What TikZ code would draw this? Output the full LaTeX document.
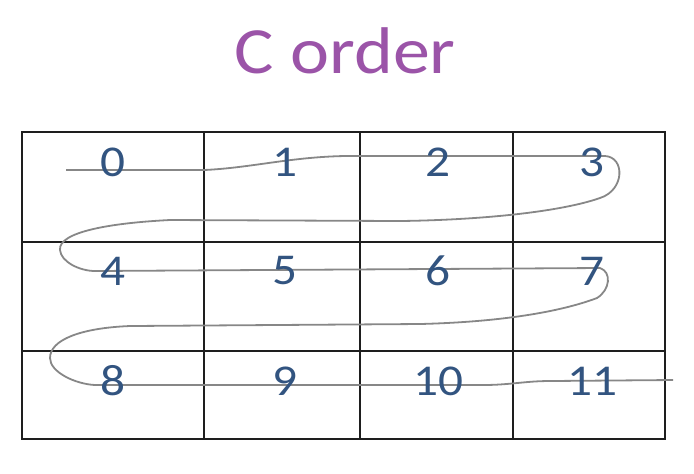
\documentclass[tikz,border=0pt]{standalone}
\usepackage{fontspec}
\usepackage{tikz}
\usetikzlibrary{positioning, calc}
\newfontfamily\calibrifont{Carlito}[FakeStretch=1.12]
\definecolor{titlepurple}{RGB}{155, 84, 168}
\definecolor{cellblue}{RGB}{50, 84, 128}
\definecolor{gridblack}{RGB}{30, 30, 30}
\definecolor{curvegray}{RGB}{135, 135, 135}
\tikzset{
    titlenode/.style={
        font=\calibrifont\fontsize{33}{36}\selectfont, text=titlepurple, inner sep=0pt, anchor=base
    },
    cellnum/.style={
        font=\calibrifont\fontsize{22}{24}\selectfont, text=cellblue, inner sep=0pt, anchor=center
    },
    gridline/.style={
        draw=gridblack, line width=1pt
    },
    orderpath/.style={
        draw=curvegray, line width=0.9pt, line join=round
    }
}

\begin{document}
\begin{tikzpicture}[x=0.5pt, y=-0.5pt]
        \useasboundingbox (0,0) rectangle (694,473);

        % --- 1. TITLE ---
        \node[titlenode] (title) at (345,73) {C order};

        % --- 2. GRID ---
        \coordinate (nw) at (22,132);
        \coordinate (se) at (665,439);
        \draw[gridline] (nw) rectangle (se);
        \foreach \gx in {204, 360, 513}
            \draw[gridline] (\gx,132) -- (\gx,439);
        \foreach \gy in {242, 351}
            \draw[gridline] (22,\gy) -- (665,\gy);

        % --- 3. ROW-MAJOR PATH ---
        \coordinate (start) at (66,170);
        \coordinate (finish) at (673,380);
        \draw[orderpath] (start) -- (204,170)
            .. controls (250,168) and (290,157) .. (345,156) -- (605,156)
            .. controls (625,157) and (625,190) .. (600,198)
            .. controls (560,212) and (480,220) .. (400,221) -- (170,220)
            .. controls (110,223) and (58,232) .. (60,250)
            .. controls (61,262) and (80,271) .. (95,271) -- (600,268)
            .. controls (612,272) and (610,290) .. (597,298)
            .. controls (560,312) and (500,322) .. (420,324) -- (130,326)
            .. controls (80,328) and (50,340) .. (50,358)
            .. controls (50,372) and (75,384) .. (95,385) -- (483,385)
            .. controls (510,385) and (525,381) .. (550,381) -- (finish);

        % --- 4. CELL INDICES ---
        \foreach \cy [count=\r from 0] in {162, 271, 381}
            \foreach \cx [count=\c from 0] in {113, 285, 438, 592} {
                \pgfmathtruncatemacro{\idx}{4*\r+\c}
                \node[cellnum] (d\idx) at (\cx,\cy) {\idx};
            }

    \end{tikzpicture}
\end{document}
